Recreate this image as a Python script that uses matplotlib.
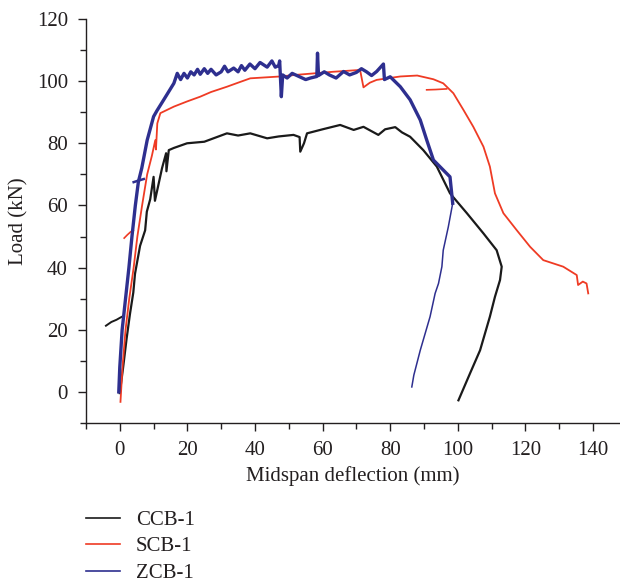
import numpy as np
import matplotlib.pyplot as plt
from matplotlib.ticker import MultipleLocator

# (deflection mm, load kN)
ccb_hook_x = [-4.1, -2.5, -1.0, 0.3, 1.2]
ccb_hook_y = [21.3, 22.5, 23.2, 24.0, 24.5]
ccb_x = [0.0, 1.0, 2.0, 3.0, 4.0, 4.5, 5.5, 6.0, 7.5, 8.0, 9.0, 10.0, 10.4, 11.5, 12.5, 13.7, 13.8,
         14.5, 16.0, 19.9, 25.0, 31.7, 35.0, 38.6, 43.6, 47.0, 51.4, 53.2, 53.4, 54.5, 55.4, 60.0,
         65.2, 69.2, 72.1, 76.5, 78.5, 81.5, 83.5, 85.9, 89.8, 93.8, 97.7, 102.7, 107.6, 111.5,
         113.0, 112.5, 111.0, 109.5, 106.6, 103.6, 100.2]
ccb_y = [-0.4, 8.0, 17.0, 25.0, 32.0, 38.0, 44.0, 47.0, 52.0, 58.0, 62.0, 69.2, 61.5, 67.0, 72.0,
         76.8, 71.0, 77.8, 78.5, 80.0, 80.5, 83.2, 82.5, 83.2, 81.6, 82.2, 82.7, 82.0, 77.3, 80.0,
         83.2, 84.5, 85.9, 84.3, 85.3, 82.7, 84.5, 85.2, 83.5, 82.1, 77.8, 72.5, 63.9, 57.5, 51.0,
         45.6, 40.3, 36.0, 30.6, 24.2, 13.4, 5.9, -2.7]

scb_hook_x = [1.3, 2.2, 3.2, 4.0]
scb_hook_y = [49.5, 50.5, 51.5, 52.0]
scb_stub_x = [90.8, 93.5, 96.7]
scb_stub_y = [97.2, 97.3, 97.5]
scb_x = [0.2, 0.8, 1.7, 2.8, 4.1, 5.2, 6.6, 8.1, 9.5, 10.5, 10.7, 11.1, 12.0, 16.0, 20.0, 23.8,
         27.0, 31.7, 35.0, 38.6, 43.0, 47.5, 52.0, 56.4, 63.0, 71.1, 72.1, 74.0, 76.0, 83.0, 88.0,
         92.8, 95.7, 98.7, 101.7, 104.6, 107.6, 109.5, 111.0, 113.5, 117.4, 121.4, 125.3, 131.2,
         135.2, 135.6, 137.0, 138.1, 138.6]
scb_y = [-3.2, 8.0, 20.0, 30.0, 40.0, 50.0, 60.0, 70.0, 76.0, 81.0, 78.0, 86.4, 89.7, 91.8, 93.5,
         95.0, 96.5, 98.2, 99.5, 100.9, 101.2, 101.5, 102.0, 102.4, 103.0, 103.6, 98.0, 99.5, 100.4,
         101.5, 101.8, 100.6, 99.3, 96.1, 90.7, 85.3, 78.9, 72.5, 63.9, 57.5, 52.1, 46.7, 42.4, 40.3,
         37.6, 34.4, 35.5, 34.9, 31.7]

zcb_hook_x = [4.1, 5.5, 7.1]
zcb_hook_y = [67.5, 68.0, 68.5]
zcb_x = [-0.3, 0.0, 0.7, 1.7, 2.7, 3.6, 4.6, 5.5, 6.5, 8.1, 10.0, 11.0, 13.0, 16.0, 17.0, 18.0,
         19.0, 20.0, 21.0, 22.0, 23.0, 23.8, 25.0, 26.0, 27.0, 28.5, 30.0, 31.0, 32.0, 33.7, 35.0,
         36.0, 37.0, 38.5, 40.0, 41.5, 43.6, 45.0, 46.0, 47.0, 47.3, 47.8, 48.2, 49.5, 51.0, 53.0,
         55.0, 56.4, 58.3, 58.5, 58.8, 60.5, 62.0, 64.0, 66.2, 68.0, 70.0, 71.5, 73.0, 74.5, 76.0,
         78.0, 78.3, 80.0, 83.0, 85.9, 88.9, 90.8, 92.8, 95.7, 97.7, 98.5]
zcb_y = [0.0, 8.0, 20.0, 30.0, 40.0, 50.0, 60.0, 67.6, 72.0, 81.0, 88.6, 90.5, 94.0, 99.3, 102.5,
         100.5, 102.5, 101.0, 103.0, 102.0, 103.8, 102.2, 104.0, 102.5, 103.8, 102.0, 103.0, 104.8,
         103.0, 104.2, 103.0, 105.0, 103.5, 105.5, 104.0, 106.0, 104.5, 106.5, 104.5, 105.0, 106.5,
         95.0, 102.0, 101.0, 102.5, 101.5, 100.5, 101.0, 101.5, 109.0, 101.8, 103.0, 102.0, 101.0,
         103.1, 102.0, 102.8, 104.0, 103.0, 101.8, 103.1, 105.5, 100.5, 101.4, 98.2, 94.0, 87.5,
         81.1, 74.6, 71.4, 69.2, 60.7]
zcb_tail_x = [98.5, 97.2, 95.7, 95.3, 94.3, 93.3, 91.8, 88.9, 87.0, 86.4]
zcb_tail_y = [60.7, 53.1, 45.6, 40.3, 34.9, 31.7, 24.2, 13.4, 5.4, 1.6]

plt.rcParams['font.family'] = ['Liberation Serif', 'DejaVu Serif']
txt = '#231f20'
c_black = '#1a1a1a'
c_red = '#ef3b24'
c_blue = '#2e2f8f'

fig = plt.figure(figsize=(6.2, 5.82), dpi=100)
ax = fig.add_axes([0.1387, 0.2732, 0.8613, 0.6942])

ax.plot(ccb_hook_x, ccb_hook_y, color=c_black, lw=1.4)
ax.plot(ccb_x, ccb_y, color=c_black, lw=1.6, label='CCB-1')
ax.plot(scb_hook_x, scb_hook_y, color=c_red, lw=1.2)
ax.plot(scb_stub_x, scb_stub_y, color=c_red, lw=1.2)
ax.plot(scb_x, scb_y, color=c_red, lw=1.3, label='SCB-1')
ax.plot(zcb_hook_x, zcb_hook_y, color=c_blue, lw=1.8)
ax.plot(zcb_x, zcb_y, color=c_blue, lw=2.4, label='ZCB-1')
ax.plot(zcb_tail_x, zcb_tail_y, color=c_blue, lw=1.1)

ax.set_xlim(-10, 148)
ax.set_ylim(-10, 120)
ax.xaxis.set_major_locator(MultipleLocator(20))
ax.xaxis.set_minor_locator(MultipleLocator(10))
ax.yaxis.set_major_locator(MultipleLocator(20))
ax.yaxis.set_minor_locator(MultipleLocator(10))
ax.spines['top'].set_visible(False)
ax.spines['right'].set_visible(False)
for s in ['left', 'bottom']:
    ax.spines[s].set_color(txt)
    ax.spines[s].set_linewidth(1.0)
ax.tick_params(which='major', direction='out', length=6, width=1, colors=txt,
               labelsize=15, pad=7)
ax.tick_params(which='minor', direction='out', length=4, width=1, colors=txt)
ax.set_xlabel('Midspan deflection (mm)', fontsize=15, color=txt, labelpad=4)
ax.set_ylabel('Load (kN)', fontsize=15, color=txt, labelpad=6)

leg = fig.legend(loc='upper left', bbox_to_anchor=(0.1387, 0.123), frameon=False, fontsize=15,
                 handlelength=1.65, handletextpad=0.75, labelspacing=0.33, borderaxespad=0,
                 borderpad=0, labelcolor=txt)
for h in leg.legend_handles:
    h.set_linewidth(1.2)

fig.savefig('out.png', dpi=100)
